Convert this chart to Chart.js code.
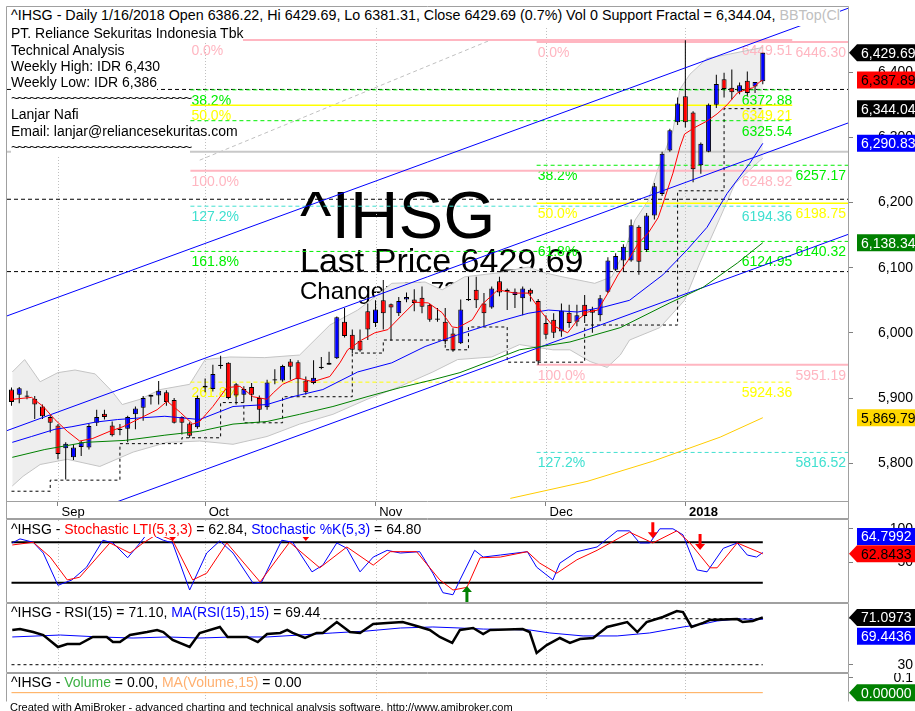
<!DOCTYPE html>
<html>
<head>
<meta charset="utf-8">
<title>^IHSG Daily</title>
<script src="https://cdn.jsdelivr.net/npm/chart.js@4.4.1/dist/chart.umd.min.js"></script>
<style>
  html, body { margin: 0; padding: 0; background: #fff; }
  body { position: relative; width: 915px; height: 711px; overflow: hidden; font-family: Arial, "Liberation Sans", sans-serif; }
  canvas { position: absolute; left: 0; }
  .txt { position: absolute; font-size: 14px; line-height: 16px; color: #000; white-space: nowrap; }
  .bg { background: #fff; }
  .tl { letter-spacing: -2px; }
</style>
</head>
<body>
<canvas id="mainChart" width="915" height="519" style="top:0"></canvas>
<canvas id="stochChart" width="915" height="84" style="top:519px"></canvas>
<canvas id="rsiChart" width="915" height="70" style="top:603px"></canvas>
<canvas id="volChart" width="915" height="29" style="top:673px"></canvas>

<div class="txt bg" style="left:8px;top:7px;width:829px;height:19px;padding-left:3px;overflow:hidden;font-size:14.3px">^IHSG - Daily 1/16/2018 Open 6386.22, Hi 6429.69, Lo 6381.31, Close 6429.69 (0.7%) Vol 0 Support Fractal = 6,344.04, <span style="color:#c0c0c0">BBTop(Close,20,2)</span></div>
<div class="txt" style="left:11px;top:25.4px;line-height:16.2px">
<span class="bg">PT. Reliance Sekuritas Indonesia Tbk</span><br>
<span class="bg">Technical Analysis</span><br>
<span class="bg">Weekly High: IDR 6,430</span><br>
<span class="bg">Weekly Low: IDR 6,386</span><br>
<span class="bg tl">~~~~~~~~~~~~~~~~~~~~~~~~~~~~~</span><br>
<span class="bg">Lanjar Nafi</span><br>
<span class="bg">Email: lanjar@reliancesekuritas.com</span><br>
<span class="bg tl">~~~~~~~~~~~~~~~~~~~~~~~~~~~~~</span>
</div>
<div class="txt" style="left:11px;top:520.5px"><span class="bg">^IHSG - <span style="color:#ff0000">Stochastic LTI(5,3,3)</span> = 62.84, <span style="color:#0000ff">Stochastic %K(5,3)</span> = 64.80</span></div>
<div class="txt" style="left:11px;top:604px"><span class="bg">^IHSG - RSI(15) = 71.10, <span style="color:#0000ff">MA(RSI(15),15)</span> = 69.44</span></div>
<div class="txt" style="left:11px;top:673.5px"><span class="bg">^IHSG - <span style="color:#3cb043">Volume</span> = 0.00, <span style="color:#ffb070">MA(Volume,15)</span> = 0.00</span></div>
<div class="txt" style="left:10px;top:701px;font-size:11px;line-height:13px">Created with AmiBroker - advanced charting and technical analysis software. http://www.amibroker.com</div>

<script>
// ==========================================
// ^IHSG daily - price pane + stochastic, RSI, volume panes
// ==========================================

const FONT = 'Arial, "Liberation Sans", sans-serif';
const X_MIN = -0.58;
const X_MAX = 108;

// Date axis (bar index of first trading day of each month)
const monthTicks = [6, 25, 47, 69, 87];
const monthLabels = ['Sep', 'Oct', 'Nov', 'Dec', '2018'];
const priceTicks = [5800, 5900, 6000, 6100, 6200, 6300, 6400];

// OHLC, one value per bar
const barOpen = [
  5913, 5905, 5902, 5899, 5887, 5871, 5858, 5823, 5809, 5825,
  5824, 5862, 5876, 5858, 5851, 5853, 5875, 5885, 5902, 5904,
  5909, 5897, 5871, 5861, 5855, 5919, 5914, 5949, 5954, 5921,
  5905, 5917, 5900, 5886, 5927, 5927, 5956, 5955, 5927, 5923,
  5946, 5954, 5961, 6017, 5997, 5988, 6033, 6015, 6050, 6044,
  6030, 6051, 6051, 6054, 6043, 6022, 6017, 5999, 5984, 6052,
  6066, 6045, 6039, 6079, 6066, 6058, 6053, 6066, 6049, 6015,
  6020, 6002, 6031, 6017, 6043, 6036, 6027, 6063, 6097, 6111,
  6111, 6163, 6127, 6180, 6213, 6280, 6323, 6363, 6338, 6257,
  6278, 6350, 6389, 6376, 6370, 6387, 6378, 6386.22
];
const barHigh = [
  5916, 5917, 5911, 5903, 5890, 5874, 5860, 5832, 5829, 5834,
  5860, 5882, 5882, 5864, 5860, 5873, 5887, 5903, 5905, 5926,
  5912, 5900, 5872, 5863, 5904, 5930, 5951, 5965, 5955, 5923,
  5918, 5923, 5904, 5928, 5944, 5951, 5960, 5958, 5933, 5958,
  5963, 5971, 6025, 6038, 6005, 6005, 6045, 6050, 6081, 6045,
  6055, 6062, 6067, 6071, 6045, 6038, 6038, 6007, 6051, 6086,
  6086, 6061, 6071, 6086, 6068, 6068, 6071, 6068, 6052, 6027,
  6030, 6045, 6043, 6043, 6058, 6040, 6058, 6116, 6122, 6136,
  6174, 6165, 6184, 6230, 6278, 6313, 6361, 6449, 6340, 6292,
  6352, 6396, 6399, 6404, 6384, 6401, 6385, 6429.69
];
const barLow = [
  5888, 5892, 5898, 5868, 5868, 5847, 5806, 5775, 5805, 5811,
  5821, 5857, 5867, 5841, 5843, 5832, 5852, 5865, 5890, 5890,
  5888, 5861, 5844, 5839, 5853, 5909, 5910, 5945, 5898, 5890,
  5893, 5895, 5863, 5882, 5921, 5925, 5928, 5903, 5905, 5921,
  5944, 5951, 5960, 5993, 5969, 5971, 5989, 6009, 6005, 5988,
  6026, 6047, 6033, 6030, 6017, 6017, 5983, 5971, 5983, 6049,
  6038, 6010, 6037, 6056, 6035, 6038, 6027, 6048, 5951, 5990,
  5992, 5994, 6008, 6010, 6015, 6000, 6018, 6061, 6095, 6094,
  6109, 6089, 6124, 6174, 6210, 6278, 6319, 6315, 6231, 6244,
  6277, 6345, 6361, 6358, 6366, 6364, 6368, 6381.31
];
const barClose = [
  5894, 5915, 5904, 5890, 5872, 5862, 5814, 5830, 5824, 5832,
  5857, 5871, 5871, 5843, 5853, 5871, 5884, 5900, 5905, 5911,
  5894, 5862, 5862, 5842, 5900, 5916, 5937, 5951, 5900, 5904,
  5914, 5905, 5882, 5924, 5929, 5949, 5948, 5929, 5909, 5931,
  5948, 5951, 6024, 5995, 5974, 5973, 6005, 6036, 6030, 6039,
  6049, 6055, 6046, 6040, 6020, 6020, 5987, 5973, 6036, 6050,
  6050, 6030, 6068, 6062, 6063, 6063, 6068, 6060, 5956, 5997,
  6000, 6034, 6015, 6027, 6026, 6031, 6053, 6111, 6118, 6132,
  6165, 6109, 6180, 6225, 6275, 6311, 6352, 6323, 6251, 6290,
  6350, 6382, 6374, 6369, 6380, 6368, 6385, 6429.69
];

// Support fractal (stepped), one value per bar
const supportFractal = [
  5757, 5757, 5757, 5757, 5757, 5757, 5774, 5774, 5774, 5774,
  5774, 5774, 5774, 5774, 5774, 5830, 5830, 5830, 5830, 5830,
  5830, 5830, 5830, 5839, 5839, 5839, 5839, 5839, 5893, 5893,
  5893, 5862, 5862, 5862, 5862, 5862, 5902, 5902, 5902, 5902,
  5902, 5902, 5902, 5902, 5902, 5969, 5969, 5969, 5969, 5989,
  5989, 5989, 5989, 5989, 5989, 5989, 5989, 5974, 5974, 5974,
  6009, 6009, 6009, 6009, 6009, 5955, 5955, 5955, 5955, 5955,
  5955, 5955, 5955, 5955, 5955, 6012, 6012, 6012, 6012, 6012,
  6012, 6012, 6012, 6012, 6012, 6012, 6012, 6218, 6218, 6218,
  6218, 6218, 6218, 6344.04, 6344.04, 6344.04, 6344.04, 6344.04
];

// Overlay lines as [bar, price]
const ma5Pts = [
  [0.1, 5898], [2.6, 5901], [4.1, 5887], [5.6, 5867], [7.2, 5849], [8.8, 5834], [10.5, 5838],
  [12.7, 5849], [14.4, 5856], [16.6, 5869], [18.8, 5882], [20.1, 5895], [21.8, 5878], [23.4, 5860],
  [24.3, 5864], [26, 5887], [27.8, 5916], [29.5, 5918], [31.2, 5902], [33, 5898], [33.8, 5908],
  [35, 5921], [36.9, 5931], [38.9, 5925], [41.1, 5933], [42.4, 5954], [43.4, 5974], [45.2, 5989],
  [46.9, 6000], [48.6, 6005], [50.4, 6027], [52.1, 6047], [53.8, 6046], [55.6, 6031], [56.9, 6009],
  [57.6, 6008], [59.5, 6020], [60.7, 6043], [62.8, 6066], [65, 6061], [66.7, 6061], [68.5, 6031],
  [69.8, 6012], [71.8, 6000], [73.1, 6020], [74.4, 6032], [75.7, 6035], [77, 6061], [78.3, 6089],
  [79.6, 6111], [80.9, 6137], [82.2, 6153], [83.5, 6177], [84.1, 6198], [85.4, 6245], [86.3, 6285],
  [86.9, 6305], [88.2, 6315], [89.8, 6325], [91.1, 6336], [92.4, 6350], [93.7, 6368], [95, 6374],
  [95.7, 6376], [96.6, 6385], [97, 6387.89]
];
const ma20Pts = [
  [0.1, 5832], [2.6, 5841], [5.6, 5852], [7.8, 5856], [10.8, 5863], [13.7, 5867], [17.2, 5870],
  [19.8, 5872], [24.3, 5867], [28.6, 5887], [33, 5890], [36.3, 5902], [40.2, 5913], [44.7, 5940],
  [49.1, 5954], [53.4, 5979], [57.6, 5997], [63.1, 6018], [66.7, 6030], [69.3, 6035], [73.1, 6032],
  [76.6, 6040], [79.8, 6050], [84.1, 6089], [87.2, 6127], [89.8, 6162], [92.4, 6214], [95.3, 6260],
  [97, 6290.83]
];
const ma50Pts = [
  [0.1, 5809], [4.3, 5821], [9.5, 5832], [14.7, 5835], [19.8, 5843], [24.3, 5849], [28.6, 5860],
  [33, 5864], [37.2, 5875], [41.5, 5887], [45.9, 5902], [50.2, 5916], [54.4, 5928], [57.9, 5939],
  [65.6, 5974], [72.1, 5986], [78.6, 6008], [85, 6046], [89.3, 6070], [93.7, 6107], [97, 6138.34]
];
const ma200Pts = [[64.4, 5746], [74.3, 5772], [82.8, 5803], [91.5, 5840], [97, 5869.79]];

const bbTopPts = [
  [0.1, 5940], [1.7, 5959], [3.7, 5925], [6, 5939], [8.2, 5943], [10.8, 5937], [13, 5910],
  [14.3, 5890], [16.6, 5898], [19.2, 5913], [23, 5921], [25, 5959], [28.2, 5963], [32.7, 5962],
  [37.2, 5966], [41.1, 6012], [44.7, 6035], [46.9, 6055], [49.1, 6076], [53.4, 6078], [55.6, 6066],
  [58.5, 6086], [62.8, 6092], [66.7, 6101], [68.9, 6092], [71.1, 6086], [75.3, 6076], [77.5, 6086],
  [79.2, 6127], [80.5, 6173], [82.2, 6203], [83.5, 6253], [85.4, 6310], [86.3, 6374], [87.6, 6397],
  [89.8, 6421], [92.8, 6428], [96.6, 6437], [97, 6438]
];
const bbBotPts = [
  [0.1, 5765], [1.5, 5780], [3.7, 5798], [7.2, 5806], [11.4, 5795], [15.7, 5817], [20.1, 5832],
  [24.3, 5834], [28.6, 5829], [33, 5841], [37.2, 5860], [41.5, 5875], [45.9, 5898], [50.2, 5918],
  [54.4, 5940], [57.6, 5959], [62, 5963], [65.6, 5982], [69.9, 5974], [72.1, 5974], [74.7, 5956],
  [76.9, 5947], [78.6, 5966], [79.8, 5989], [83.7, 6008], [86.9, 6050], [88.9, 6108], [91.5, 6177],
  [93.4, 6229], [96.6, 6264], [97, 6268]
];

// Regression channel end points and a trend line
const channelX = [-0.58, 108];
const channelTop = [6026, 6498];
const channelMid = [5850, 6322];
const channelBot = [5679, 6151];
const trendPts = [[24.3, 6265], [61.8, 6449]];

// Fibonacci sets
const fibAPct = ['0.0%', '38.2%', '50.0%', '61.8%', '100.0%', '127.2%', '161.8%', '261.8%'];
const fibAValues = [6449.51, 6372.88, 6349.21, 6325.54, 6248.92, 6194.36, 6124.95, 5924.36];
const fibASpan = [23.1, 100.8];
const fibBPct = ['0.0%', '38.2%', '50.0%', '61.8%', '100.0%', '127.2%'];
const fibBValues = [6446.30, 6257.17, 6198.75, 6140.32, 5951.19, 5816.52];
const fibBSpan = [67.8, 108];

const pivotLevels = [6373.5, 6205, 6094];
const grayLevel = 6278;

// Last values shown in the right margin
const priceLast = [6429.69, 6387.89, 6344.04, 6290.83, 6138.34, 5869.79];

// Stochastic pane
const stochKPts = [
  [0.1, 79], [1.1, 85], [2.8, 80], [4.1, 64], [6, 16], [7.8, 24], [9.7, 43], [11.8, 83], [13.1, 79],
  [15, 57], [16.6, 79], [17.6, 94], [19.6, 83], [20.8, 79], [23, 9], [25.2, 64], [26.9, 82], [28.6, 64],
  [31.2, 19], [32.3, 21], [34.9, 83], [36.3, 80], [38.8, 36], [40.2, 46], [42, 79], [43.3, 71], [45, 36],
  [46.7, 58], [48.5, 68], [50.2, 64], [52.7, 66], [54.4, 34], [55.7, 5], [57, 2], [57.9, 24], [59.8, 68],
  [60.9, 58], [63.1, 61], [66.6, 66], [67.8, 43], [69.9, 24], [70.8, 49], [73, 66], [75.6, 73], [78.2, 97],
  [79.8, 97], [81.1, 79], [82.4, 79], [83.7, 100], [85.4, 100], [86.7, 91], [88.5, 39], [89.8, 36],
  [91.9, 71], [93.7, 79], [95, 61], [96.2, 58], [97, 64.7992]
];
const stochLtiPts = [
  [0.1, 76], [2.8, 80], [5, 58], [7.2, 24], [8.8, 28], [12.7, 79], [15.3, 64], [17, 79], [18.8, 92],
  [20.8, 83], [23.4, 24], [25.2, 34], [27.8, 79], [32.1, 21], [35.9, 80], [39.8, 42], [43.3, 73],
  [46.7, 46], [48.9, 66], [52.3, 66], [55.3, 24], [57, 9], [58.8, 13], [60.5, 57], [63.1, 58], [66.6, 66],
  [68.2, 49], [70.4, 34], [73, 54], [75.6, 68], [79.8, 95], [82.8, 79], [85.9, 97], [87.6, 79], [90.2, 42],
  [91.1, 42], [93.7, 79], [97, 62.8433]
];
const stochLevels = [80, 20];
const stochLast = [64.7992, 62.8433];
const sellArrows = [[20.8, 82], [38, 82], [82.8, 86], [88.9, 68.5]];
const buyArrows = [[58.8, 15]];

// RSI pane
const rsiPts = [
  [0.1, 60.2], [1.1, 61], [2.8, 58.4], [4.1, 55.8], [6, 45.4], [7.2, 48], [8.8, 48], [10.5, 54.1],
  [12.3, 54.1], [13.1, 49.7], [14, 49.7], [15.3, 55.8], [17.5, 58.4], [18.8, 60.2], [19.6, 58.4],
  [20.8, 51.5], [23, 45.4], [24.3, 57.6], [26.9, 62.8], [27.9, 54.1], [30.4, 54.1], [31.8, 49.7],
  [33, 56.7], [34.7, 57.6], [35.6, 60.2], [36.3, 57.6], [37.9, 53.2], [39.4, 57.6], [40.2, 57.6],
  [42, 67.1], [43.7, 58.4], [45, 57.6], [46.7, 65.4], [48.5, 66.3], [50.5, 67.1], [52.3, 63.7],
  [54, 60.2], [55.3, 54.1], [56.9, 48.9], [57.9, 60.2], [59.6, 61.9], [60.9, 56.7], [61.8, 60.2],
  [66, 61], [66.9, 58.4], [67.8, 40.2], [69.1, 47.1], [70.8, 53.2], [72.1, 48.9], [73.4, 52.3],
  [75.1, 53.2], [76.9, 62.8], [79.5, 67.1], [80.8, 58.4], [82, 67.1], [84.1, 71.5], [85.9, 76.7],
  [86.7, 75.8], [87.8, 62.8], [89.3, 66.3], [90.2, 68.9], [93.7, 69.7], [94.4, 67.1], [95.7, 68],
  [97, 71.0973]
];
const rsiMaPts = [
  [0.1, 54.1], [6.3, 55.8], [11.4, 54.1], [15.7, 53.2], [20.1, 54.1], [24.3, 53.2], [28.6, 54.1],
  [33, 54.1], [37.2, 55.8], [41.5, 57.6], [45.9, 59.3], [50.2, 61.9], [54.4, 62.8], [57.9, 61.9],
  [60.9, 61], [66.9, 60.2], [69.5, 57.6], [73.8, 55], [78.2, 55], [82.4, 57.6], [86.7, 62.8],
  [89.3, 65.4], [91.1, 68], [93.7, 69.7], [97, 69.4436]
];
const rsiLevels = [70, 30];
const rsiLast = [71.0973, 69.4436];

// Volume pane
const volMaPts = [[0, 0], [97, 0]];
const volLast = [0];

// ------------------------------------------
// helpers
// ------------------------------------------
const xy = pts => pts.map(p => ({ x: p[0], y: p[1] }));
const hline = (x0, x1, v) => [{ x: x0, y: v }, { x: x1, y: v }];
const seg = (xs, ys) => [{ x: xs[0], y: ys[0] }, { x: xs[1], y: ys[1] }];

function line(data, color, width, order, extra) {
  return Object.assign({
    type: 'line', data, borderColor: color, backgroundColor: color,
    borderWidth: width, pointRadius: 0, tension: 0, fill: false, order
  }, extra || {});
}

function fibStyle(p) {
  switch (p) {
    case '0.0%': case '100.0%': return { color: '#ffb6c1', width: 2, dash: [] };
    case '50.0%': return { color: '#ffff00', width: 1.5, dash: [] };
    case '127.2%': return { color: '#40e0d0', width: 1, dash: [4, 3] };
    case '261.8%': return { color: '#ffff00', width: 1, dash: [4, 3] };
    default: return { color: '#00ee00', width: 1, dash: [4, 3] };
  }
}

function drawMonthLines(chart) {
  const { ctx, chartArea: a, scales: { x } } = chart;
  ctx.save();
  ctx.strokeStyle = '#c0c0c0';
  ctx.lineWidth = 1;
  ctx.setLineDash([1, 2]);
  monthTicks.forEach(v => {
    const px = Math.round(x.getPixelForValue(v)) + 0.5;
    ctx.beginPath();
    ctx.moveTo(px, a.top);
    ctx.lineTo(px, a.bottom);
    ctx.stroke();
  });
  ctx.restore();
}

function drawFrame(chart, noBottom) {
  const { ctx, chartArea: a } = chart;
  ctx.save();
  ctx.strokeStyle = '#a0a0a0';
  ctx.lineWidth = 1;
  ctx.beginPath();
  ctx.moveTo(a.left - 0.5, a.bottom + 0.5);
  ctx.lineTo(a.left - 0.5, a.top - 0.5);
  ctx.lineTo(a.right + 0.5, a.top - 0.5);
  ctx.lineTo(a.right + 0.5, a.bottom + 0.5);
  if (!noBottom) ctx.lineTo(a.left - 0.5, a.bottom + 0.5);
  ctx.stroke();
  ctx.restore();
}

function valueBox(chart, b) {
  const { ctx, chartArea: a, scales: { y } } = chart;
  const x0 = a.right;
  const py = y.getPixelForValue(b.value) + (b.dy || 0);
  ctx.save();
  ctx.fillStyle = b.bg;
  ctx.beginPath();
  if (b.arrow) {
    ctx.moveTo(x0 + 1, py);
    ctx.lineTo(x0 + 9, py - 8.5);
  } else {
    ctx.moveTo(x0 + 9, py - 8.5);
  }
  ctx.lineTo(915, py - 8.5);
  ctx.lineTo(915, py + 8.5);
  ctx.lineTo(x0 + 9, py + 8.5);
  ctx.closePath();
  ctx.fill();
  ctx.fillStyle = b.fg;
  ctx.font = '14px ' + FONT;
  ctx.textAlign = 'left';
  ctx.textBaseline = 'middle';
  ctx.fillText(b.text, x0 + 13, py + 1);
  ctx.restore();
}

function drawArrow(ctx, px, py, dir, color) {
  // dir 1: points down (tip at py), -1: points up
  ctx.save();
  ctx.fillStyle = color;
  ctx.beginPath();
  ctx.moveTo(px, py);
  ctx.lineTo(px - 5, py - 6 * dir);
  ctx.lineTo(px - 1.5, py - 6 * dir);
  ctx.lineTo(px - 1.5, py - 16 * dir);
  ctx.lineTo(px + 1.5, py - 16 * dir);
  ctx.lineTo(px + 1.5, py - 6 * dir);
  ctx.lineTo(px + 5, py - 6 * dir);
  ctx.closePath();
  ctx.fill();
  ctx.restore();
}

function baseOptions(o) {
  return {
    responsive: false,
    animation: false,
    events: [],
    layout: { padding: o.padding, autoPadding: false },
    plugins: {
      legend: { display: false },
      tooltip: { enabled: false },
      filler: { drawTime: 'beforeDatasetsDraw' }
    },
    scales: {
      x: {
        type: 'linear', min: X_MIN, max: X_MAX, bounds: 'data', offset: false,
        display: o.xDisplay, position: 'bottom',
        afterBuildTicks: s => { s.ticks = monthTicks.map(v => ({ value: v })); },
        afterFit: s => { s.height = o.xDisplay ? 18 : 0; s.paddingLeft = 0; s.paddingRight = 0; },
        grid: { offset: false, drawOnChartArea: false, drawTicks: true, tickLength: 5, tickColor: '#808080' },
        border: { display: false },
        ticks: {
          autoSkip: false, maxRotation: 0, minRotation: 0, align: 'start', padding: -1, color: '#000',
          callback: (v, i) => ' ' + monthLabels[i],
          font: c => ({ family: FONT, size: 13, weight: /^\d{4}$/.test(monthLabels[c.index]) ? 'bold' : 'normal' })
        }
      },
      y: {
        type: 'linear', position: 'right', min: o.yMin, max: o.yMax, bounds: 'data',
        afterBuildTicks: s => { s.ticks = o.yTicks.map(v => ({ value: v })); },
        afterFit: s => { s.width = 65; s.paddingTop = 0; s.paddingBottom = 0; },
        grid: { drawOnChartArea: false, drawTicks: true, tickLength: 5, tickColor: '#808080' },
        border: { display: false },
        ticks: {
          autoSkip: false, color: '#000', font: { family: FONT, size: 14 },
          crossAlign: 'far', padding: 0, callback: v => o.yFmt(v)
        }
      }
    }
  };
}

// ------------------------------------------
// main price pane
// ------------------------------------------
const idx = barOpen.map((_, i) => i);
const wickData = idx.map(i => ({ x: i, y: [barLow[i], barHigh[i]] }));
const bodyData = idx.map(i => ({ x: i, y: [Math.min(barOpen[i], barClose[i]), Math.max(barOpen[i], barClose[i])] }));
const bodyColors = idx.map(i => (barClose[i] >= barOpen[i] ? '#0000ff' : '#ff0000'));

const fibSets = [];
fibAValues.forEach((v, k) => {
  const st = fibStyle(fibAPct[k]);
  fibSets.push(line(hline(fibASpan[0], fibASpan[1], v), st.color, st.width, 95, { borderDash: st.dash }));
});
fibBValues.forEach((v, k) => {
  const st = fibStyle(fibBPct[k]);
  fibSets.push(line(hline(fibBSpan[0], fibBSpan[1], v), st.color, st.width, 95, { borderDash: st.dash }));
});

const mainSets = [
  line(xy(bbTopPts), '#c4c4c4', 1, 100, { fill: '+1', backgroundColor: '#eeeeee' }),
  line(xy(bbBotPts), '#c4c4c4', 1, 100),
  ...fibSets,
  ...pivotLevels.map(v => line(hline(X_MIN, X_MAX, v), '#000', 1, 96, { borderDash: [4, 3] })),
  line(hline(X_MIN, X_MAX, grayLevel), '#c8c8c8', 2, 96),
  line(xy(trendPts), '#c0c0c0', 1, 96, { borderDash: [4, 3] }),
  { type: 'bar', data: wickData, backgroundColor: '#000', barThickness: 1, grouped: false, inflateAmount: 0, order: 60 },
  {
    type: 'bar', data: bodyData, backgroundColor: bodyColors, borderColor: '#000', borderWidth: 1,
    borderSkipped: false, barThickness: 5, grouped: false, inflateAmount: 0, minBarLength: 1, order: 59
  },
  line(seg(channelX, channelTop), '#0000ff', 1, 50),
  line(seg(channelX, channelMid), '#0000ff', 1, 50),
  line(seg(channelX, channelBot), '#0000ff', 1, 50),
  line(idx.map(i => ({ x: i, y: supportFractal[i] })), '#000', 1, 50, { borderDash: [3, 3], stepped: 'after' }),
  line(xy(ma200Pts), '#ffcc00', 1, 45),
  line(xy(ma50Pts), '#008000', 1, 44),
  line(xy(ma20Pts), '#0000ff', 1, 43),
  line(xy(ma5Pts), '#ff0000', 1, 42)
];

const mainDecor = {
  id: 'mainDecor',
  beforeDraw(chart) {
    // title text sits underneath the band fill and the price marks
    const { ctx } = chart;
    ctx.save();
    ctx.fillStyle = '#000';
    ctx.textAlign = 'left';
    ctx.textBaseline = 'alphabetic';
    ctx.font = '67px ' + FONT;
    ctx.fillText('^IHSG', 300, 238);
    ctx.font = '34px ' + FONT;
    ctx.fillText('Last Price 6429.69', 300, 272);
    ctx.font = '24px ' + FONT;
    ctx.fillText('Change: 44.73 (0.70%)', 300, 299);
    ctx.restore();
  },
  beforeDatasetsDraw(chart) {
    const { ctx, scales: { x, y } } = chart;
    drawMonthLines(chart);

    ctx.save();
    ctx.font = '14px ' + FONT;
    ctx.textBaseline = 'alphabetic';
    const fibLabels = (pcts, vals, span, rightPad) => {
      const x0 = x.getPixelForValue(span[0]);
      const x1 = x.getPixelForValue(span[1]);
      vals.forEach((v, k) => {
        const py = y.getPixelForValue(v) + 15;
        ctx.fillStyle = fibStyle(pcts[k]).color;
        ctx.textAlign = 'left';
        ctx.fillText(pcts[k], x0 + 1, py);
        ctx.textAlign = 'right';
        ctx.fillText(v.toFixed(2), x1 - rightPad, py);
      });
    };
    fibLabels(fibAPct, fibAValues, fibASpan, 0);
    fibLabels(fibBPct, fibBValues, fibBSpan, 2);
    ctx.restore();
  },
  afterDraw(chart) {
    const { ctx, chartArea: a } = chart;
    drawFrame(chart);
    ctx.save();
    ctx.strokeStyle = '#a0a0a0';
    ctx.beginPath();
    ctx.moveTo(a.left - 0.5, a.bottom);
    ctx.lineTo(a.left - 0.5, 519);
    ctx.moveTo(a.right + 0.5, a.bottom);
    ctx.lineTo(a.right + 0.5, 519);
    ctx.moveTo(a.left - 0.5, 518.5);
    ctx.lineTo(a.right + 0.5, 518.5);
    ctx.stroke();
    ctx.restore();

    const fmt = v => v.toLocaleString('en-US', { minimumFractionDigits: 2, maximumFractionDigits: 2 });
    const styles = [
      ['#000000', '#ffffff', true], ['#ff0000', '#000000', false], ['#000000', '#ffffff', false],
      ['#0000ff', '#ffffff', false], ['#008000', '#ffffff', false], ['#ffd700', '#000000', false]
    ];
    priceLast.forEach((v, k) => valueBox(chart, {
      value: v, text: fmt(v), bg: styles[k][0], fg: styles[k][1], arrow: styles[k][2]
    }));
  }
};

new Chart(document.getElementById('mainChart'), {
  type: 'line',
  data: { datasets: mainSets },
  options: baseOptions({
    padding: { left: 7, top: 7, right: 2, bottom: 0 }, xDisplay: true,
    yMin: 5742, yMax: 6500, yTicks: priceTicks, yFmt: v => v.toLocaleString('en-US')
  }),
  plugins: [mainDecor]
});

// ------------------------------------------
// lower panes
// ------------------------------------------
function paneDecor(id, boxes, extra, noBottom) {
  return {
    id,
    beforeDatasetsDraw(chart) { drawMonthLines(chart); },
    afterDatasetsDraw(chart) { if (extra) extra(chart); },
    afterDraw(chart) {
      drawFrame(chart, noBottom);
      boxes.forEach(b => valueBox(chart, b));
    }
  };
}

// Stochastic
new Chart(document.getElementById('stochChart'), {
  type: 'line',
  data: {
    datasets: [
      ...stochLevels.map(v => line(hline(0, 97, v), '#000', 2, 30)),
      line(xy(stochLtiPts), '#ff0000', 1, 20),
      line(xy(stochKPts), '#0000ff', 1, 21)
    ]
  },
  options: baseOptions({
    padding: { left: 7, top: 1, right: 2, bottom: 1 }, xDisplay: false,
    yMin: -8.8, yMax: 113.1, yTicks: [50, 100], yFmt: v => String(v)
  }),
  plugins: [paneDecor('stochDecor', [
    { value: stochLast[0], text: stochLast[0].toFixed(4), bg: '#0000ff', fg: '#ffffff', arrow: false, dy: -16 },
    { value: stochLast[1], text: stochLast[1].toFixed(4), bg: '#ff0000', fg: '#000000', arrow: true }
  ], chart => {
    const { ctx, scales: { x, y } } = chart;
    sellArrows.forEach(p => drawArrow(ctx, x.getPixelForValue(p[0]), y.getPixelForValue(p[1]), 1, '#ff0000'));
    buyArrows.forEach(p => drawArrow(ctx, x.getPixelForValue(p[0]), y.getPixelForValue(p[1]), -1, '#008000'));
  })]
});

// RSI
new Chart(document.getElementById('rsiChart'), {
  type: 'line',
  data: {
    datasets: [
      ...rsiLevels.map(v => line(hline(0, 97, v), '#000', 1, 30, { borderDash: [3, 3] })),
      line(xy(rsiMaPts), '#0000ff', 1, 21),
      line(xy(rsiPts), '#000000', 2.5, 20)
    ]
  },
  options: baseOptions({
    padding: { left: 7, top: 1, right: 2, bottom: 1 }, xDisplay: false,
    yMin: 23.65, yMax: 82.78, yTicks: [30, 70], yFmt: v => String(v)
  }),
  plugins: [paneDecor('rsiDecor', [
    { value: rsiLast[0], text: rsiLast[0].toFixed(4), bg: '#000000', fg: '#ffffff', arrow: true },
    { value: rsiLast[1], text: rsiLast[1].toFixed(4), bg: '#0000ff', fg: '#ffffff', arrow: false, dy: 17 }
  ])]
});

// Volume
new Chart(document.getElementById('volChart'), {
  type: 'line',
  data: { datasets: [line(xy(volMaPts), '#ffa850', 1, 20)] },
  options: baseOptions({
    padding: { left: 7, top: 1, right: 2, bottom: 1 }, xDisplay: false,
    yMin: -0.0565, yMax: 0.127, yTicks: [0.1], yFmt: v => String(v)
  }),
  plugins: [paneDecor('volDecor', [
    { value: volLast[0], text: volLast[0].toFixed(5), bg: '#008000', fg: '#ffffff', arrow: true }
  ], null, true)]
});
</script>
</body>
</html>
